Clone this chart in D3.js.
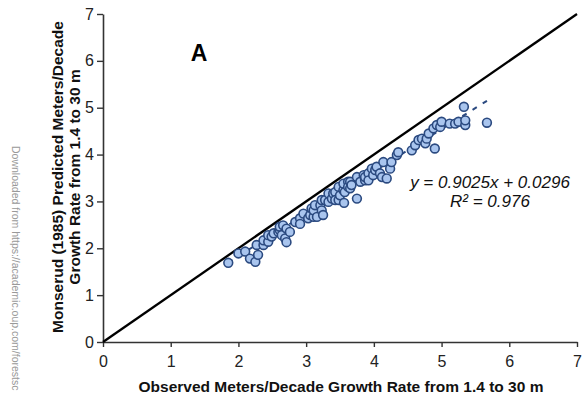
<!DOCTYPE html>
<html>
<head>
<meta charset="utf-8">
<script src="https://cdn.jsdelivr.net/npm/d3@7"></script>
<style>
  html, body { margin: 0; padding: 0; background: #fff; }
  svg { display: block; font-family: "Liberation Sans", Arial, sans-serif; }
</style>
</head>
<body>
<svg id="chart" width="583" height="396"></svg>
<script>
// Observed vs. Monserud (1985) predicted height growth, meters per decade
const observed = [
  1.85, 2.00, 2.10, 2.17, 2.25, 2.29, 2.27, 2.37, 2.37, 2.44,
  2.44, 2.49, 2.52, 2.59, 2.61, 2.61, 2.64, 2.66, 2.69, 2.71,
  2.71, 2.76, 2.84, 2.91, 2.91, 2.96, 3.03, 3.06, 3.08, 3.11,
  3.11, 3.13, 3.16, 3.21, 3.23, 3.23, 3.25, 3.28, 3.33, 3.33,
  3.38, 3.40, 3.43, 3.43, 3.48, 3.48, 3.50, 3.55, 3.56, 3.55,
  3.57, 3.62, 3.62, 3.65, 3.65, 3.67, 3.75, 3.75, 3.80, 3.85,
  3.87, 3.87, 3.92, 3.92, 3.97, 3.99, 4.02, 4.04, 4.09, 4.12,
  4.14, 4.19, 4.24, 4.26, 4.34, 4.36, 4.56, 4.61, 4.66, 4.71,
  4.76, 4.78, 4.81, 4.88, 4.90, 4.93, 4.98, 5.00, 5.12, 5.20,
  5.25, 5.33, 5.35, 5.35, 5.67
];
const predicted = [
  1.69, 1.89, 1.93, 1.78, 1.71, 1.86, 2.07, 2.07, 2.17, 2.14,
  2.28, 2.25, 2.32, 2.35, 2.39, 2.46, 2.28, 2.49, 2.21, 2.42,
  2.13, 2.35, 2.56, 2.64, 2.52, 2.74, 2.64, 2.71, 2.85, 2.67,
  2.81, 2.92, 2.67, 2.92, 2.81, 3.03, 2.71, 3.03, 3.17, 2.99,
  3.06, 3.17, 3.20, 3.03, 3.31, 3.03, 3.13, 3.24, 2.97, 3.38,
  3.20, 3.42, 3.31, 3.28, 3.42, 3.35, 3.06, 3.52, 3.42, 3.56,
  3.45, 3.52, 3.60, 3.45, 3.70, 3.56, 3.67, 3.74, 3.60, 3.52,
  3.84, 3.49, 3.70, 3.84, 3.99, 4.05, 4.09, 4.20, 4.31, 4.34,
  4.24, 4.34, 4.45, 4.56, 4.13, 4.63, 4.59, 4.70, 4.66, 4.66,
  4.70, 5.02, 4.63, 4.73, 4.68
];
const xTicks = [0, 1, 2, 3, 4, 5, 6, 7];
const yTicks = [0, 1, 2, 3, 4, 5, 6, 7];
const fitSlope = 0.9025;
const fitIntercept = 0.0296;
const fitR2 = 0.976;

const points = observed.map((x, i) => ({ x, y: predicted[i] }));

const svg = d3.select("#chart");
const W = 583, H = 396;
const margin = { top: 14, right: 6, bottom: 54, left: 103 };

const x = d3.scaleLinear().domain([0, 7]).range([margin.left, W - margin.right]);
const y = d3.scaleLinear().domain([0, 7]).range([H - margin.bottom, margin.top]);

// Axes
const xAxis = svg.append("g")
  .attr("transform", `translate(0,${y(0)})`)
  .call(d3.axisBottom(x).tickValues(xTicks).tickFormat(d3.format("d"))
    .tickSize(5).tickSizeOuter(0).tickPadding(9));
const yAxis = svg.append("g")
  .attr("transform", `translate(${x(0)},0)`)
  .call(d3.axisLeft(y).tickValues(yTicks).tickFormat(d3.format("d"))
    .tickSize(6).tickSizeOuter(0).tickPadding(3));

[xAxis, yAxis].forEach(g => {
  g.select(".domain").attr("stroke", "#333").attr("stroke-width", 1.6);
  g.selectAll(".tick line").attr("stroke", "#333").attr("stroke-width", 1.4);
  g.selectAll(".tick text")
    .attr("fill", "#222")
    .style("font-size", "16px")
    .style("font-family", "'Liberation Sans', Arial, sans-serif");
});

// 1:1 reference line
svg.append("line")
  .attr("x1", x(0)).attr("y1", y(0))
  .attr("x2", x(7)).attr("y2", y(7))
  .attr("stroke", "#000").attr("stroke-width", 2.3);

// Linear fit, drawn over the observed range
const xExt = d3.extent(observed);
svg.append("line")
  .attr("x1", x(xExt[0])).attr("y1", y(fitSlope * xExt[0] + fitIntercept))
  .attr("x2", x(xExt[1])).attr("y2", y(fitSlope * xExt[1] + fitIntercept))
  .attr("stroke", "#2b4a80").attr("stroke-width", 2)
  .attr("stroke-dasharray", "5,7");

// Observations
svg.append("g").selectAll("circle")
  .data(points)
  .join("circle")
  .attr("cx", d => x(d.x))
  .attr("cy", d => y(d.y))
  .attr("r", 4.4)
  .attr("fill", "#a9c5ee")
  .attr("stroke", "#2b4a80")
  .attr("stroke-width", 1.6);

// Fit equation
const eq = svg.append("text")
  .attr("text-anchor", "middle")
  .attr("font-style", "italic")
  .attr("fill", "#111")
  .style("font-size", "17px");
eq.append("tspan").attr("x", 490).attr("y", 188)
  .text(`y = ${fitSlope}x + ${fitIntercept}`);
eq.append("tspan").attr("x", 490).attr("y", 207)
  .text(`R² = ${fitR2}`);

// Panel letter
svg.append("text")
  .attr("x", 199).attr("y", 61)
  .attr("text-anchor", "middle")
  .attr("font-weight", "bold")
  .style("font-size", "23px")
  .text("A");

// Axis titles
svg.append("text")
  .attr("x", 341).attr("y", 392)
  .attr("text-anchor", "middle")
  .attr("font-weight", "bold")
  .attr("fill", "#111")
  .style("font-size", "15.5px")
  .text("Observed Meters/Decade Growth Rate from 1.4 to 30 m");

const yTitle = svg.append("text")
  .attr("transform", "translate(0,177) rotate(-90)")
  .attr("text-anchor", "middle")
  .attr("font-weight", "bold")
  .attr("fill", "#111")
  .style("font-size", "15.5px");
yTitle.append("tspan").attr("x", 0).attr("y", 62.5)
  .text("Monserud (1985) Predicted Meters/Decade");
yTitle.append("tspan").attr("x", 0).attr("y", 80)
  .text("Growth Rate from 1.4 to 30 m");

// Download stamp along the left margin
svg.append("text")
  .attr("transform", "translate(12,146) rotate(90)")
  .attr("fill", "#999")
  .style("font-size", "10.5px")
  .text("Downloaded from https://academic.oup.com/forestsc");
</script>
</body>
</html>
